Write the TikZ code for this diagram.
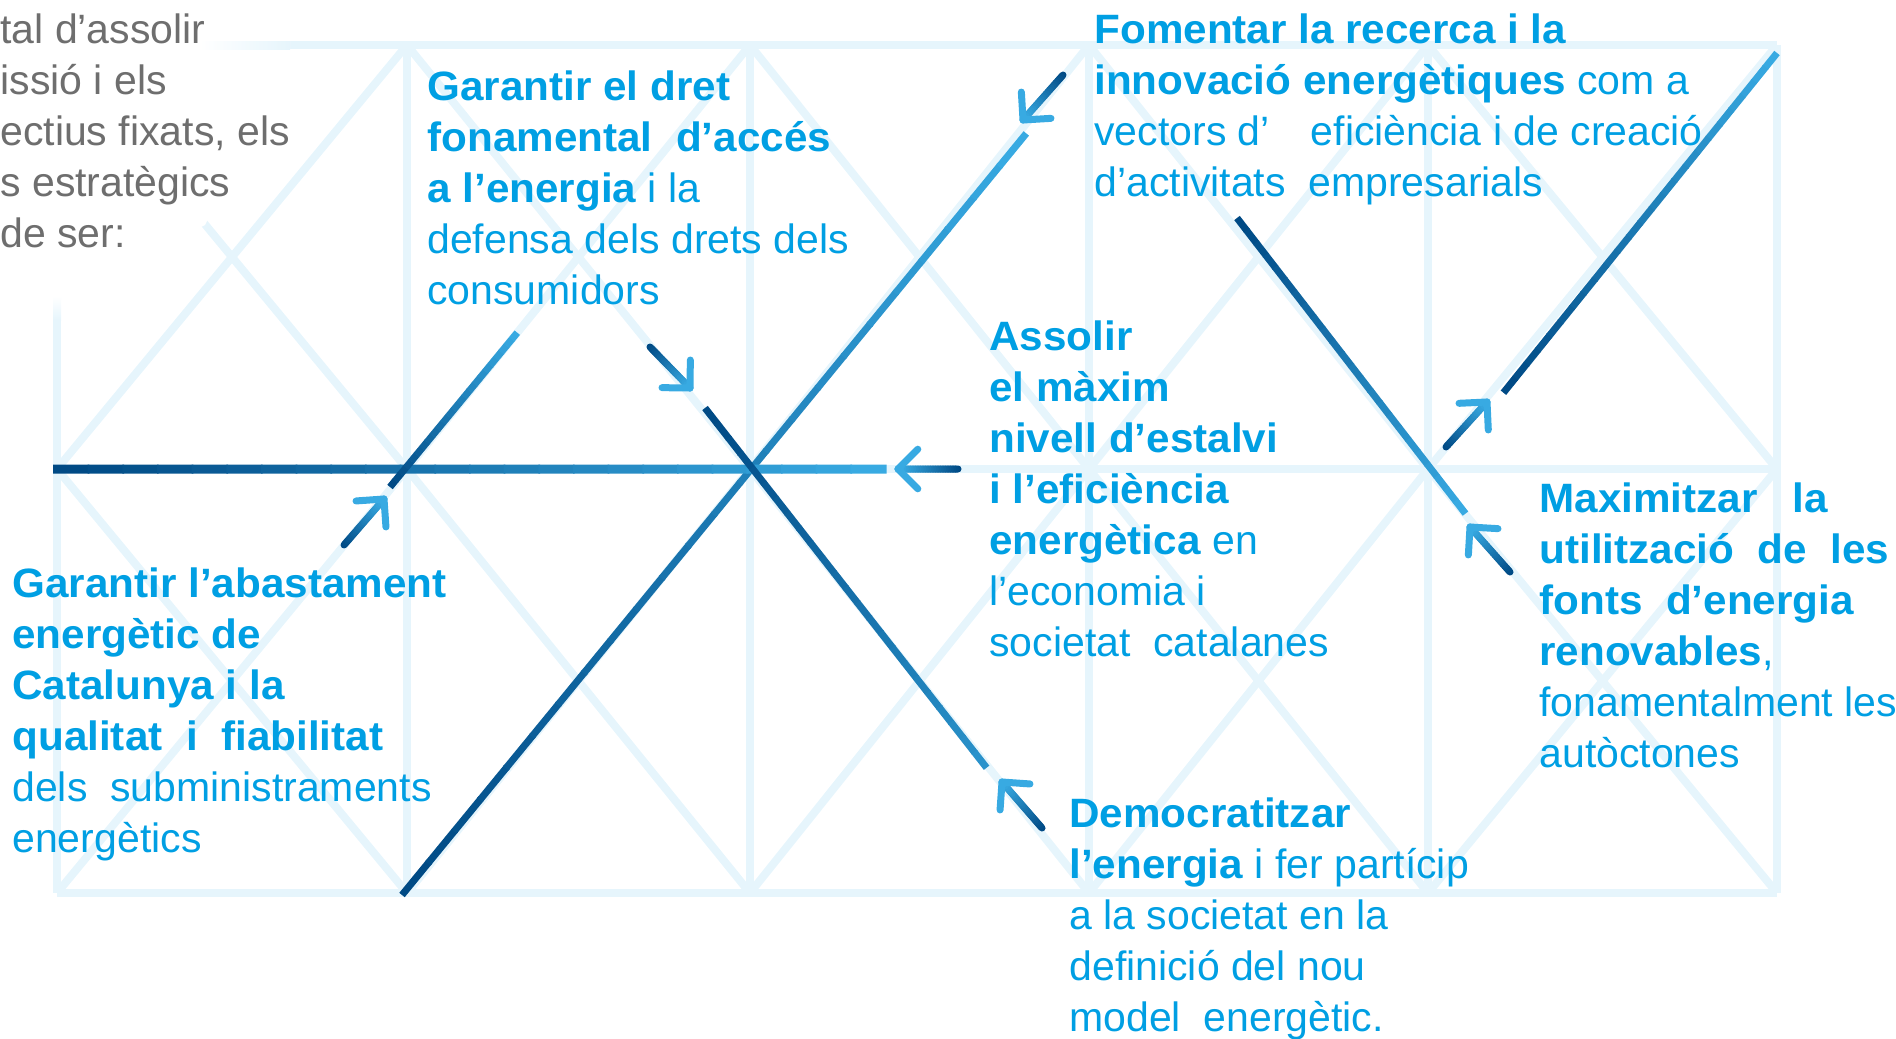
\documentclass[tikz,border=0pt]{standalone}
\usepackage{fontspec}
\setmainfont{Liberation Sans}[BoldFeatures={FakeStretch=1.03}]
\usetikzlibrary{calc}

\definecolor{graella}{HTML}{E6F5FC}
\definecolor{blautext}{HTML}{009FE3}
\definecolor{blaufosc}{HTML}{004A85}
\definecolor{blauclar}{HTML}{38AAE2}
\definecolor{gristext}{HTML}{6E6E6E}

% line with a colour ramp from #4 to #5
\newcommand{\rampline}[5]{%
  \foreach \k [evaluate=\k as \ta using \k/24,
               evaluate=\k as \tb using (\k+1.05)/24,
               evaluate=\k as \pc using int(100*\k/23)] in {0,...,23}
    \draw[#1, color=#5!\pc!#4] ($(#2)!\ta!(#3)$) -- ($(#2)!\tb!(#3)$);
}
% short arrow: ramp shaft and open head
\newcommand{\ramparrow}[2]{%
  \rampline{arrowshaft}{#1}{#2}{blaufosc}{blauclar}
  \draw[arrowhead] ($(#2)!14pt!45:(#1)$) -- (#2) -- ($(#2)!14pt!-45:(#1)$);
}

\begin{document}
\begin{tikzpicture}[
    x=0.5pt, y=-0.5pt,
    gridline/.style={graella, line width=4pt, line cap=square},
    mainline/.style={line width=3.5pt},
    axisline/.style={line width=4.5pt},
    arrowshaft/.style={line width=3.5pt, line cap=round},
    arrowhead/.style={blauclar, line width=3.5pt, line cap=round, line join=round},
    objectiu/.style={blautext, anchor=north west, inner sep=0pt, align=left,
      font=\fontsize{20.5}{25.5}\selectfont},
    intro/.style={objectiu, gristext}]
    \useasboundingbox (0,0) rectangle (1896,1039);

    % graella de fons
    \foreach \gx in {57,407,750,1089,1428,1777}
      \draw[gridline] (\gx,45) -- (\gx,893);
    \foreach \gy in {45,469,893}
      \draw[gridline] (57,\gy) -- (1777,\gy);
    \foreach \xa/\xb in {57/407,407/750,750/1089,1089/1428,1428/1777}
      \foreach \ya/\yb in {45/469,469/893}{
        \draw[gridline, line cap=butt] (\xa,\ya) -- (\xb,\yb);
        \draw[gridline, line cap=butt] (\xa,\yb) -- (\xb,\ya);
      }
    % esvaiment a dalt a l'esquerra
    \fill[white] (0,0) -- (290,0) -- (290,55) -- (205,225) -- (62,300) -- (0,300) -- cycle;
    \shade[left color=white, right color=graella] (200,41) rectangle (290,49);
    \shade[top color=white, bottom color=graella] (53,296) rectangle (61,320);

    % punts de les linies
    \coordinate (hA) at (53,469);
    \coordinate (hB) at (885,469);
    \coordinate (llA) at (402,895);
    \coordinate (llB) at (1025,135);
    \coordinate (esA) at (517,333);
    \coordinate (esB) at (390,487);
    \coordinate (baA) at (705,408);
    \coordinate (baB) at (986,767);
    \coordinate (drA) at (1237,218);
    \coordinate (drB) at (1465,513);
    \coordinate (puA) at (1777,53);
    \coordinate (puB) at (1504,392);

    % linies principals
    \rampline{mainline}{llA}{llB}{blaufosc}{blauclar}
    \rampline{axisline}{hA}{hB}{blaufosc}{blauclar}
    \rampline{mainline}{esB}{esA}{blaufosc}{blauclar}
    \rampline{mainline}{baA}{baB}{blaufosc}{blauclar!75!blaufosc}
    \rampline{mainline}{drA}{drB}{blaufosc}{blauclar}
    \rampline{mainline}{puA}{puB}{blauclar}{blaufosc}

    % fletxes
    \coordinate (abastT) at (344,545);   \coordinate (abastP) at (384,499);
    \coordinate (dretT) at (650,347);    \coordinate (dretP) at (690,388);
    \coordinate (estalviT) at (958,469); \coordinate (estalviP) at (898,469);
    \coordinate (recercaT) at (1063,75); \coordinate (recercaP) at (1023,120);
    \coordinate (democT) at (1042,828);  \coordinate (democP) at (1002,782);
    \coordinate (renovT) at (1510,572);  \coordinate (renovP) at (1470,527);
    \coordinate (autoT) at (1446,447);   \coordinate (autoP) at (1487,402);
    \ramparrow{abastT}{abastP}
    \ramparrow{dretT}{dretP}
    \ramparrow{estalviT}{estalviP}
    \ramparrow{recercaT}{recercaP}
    \ramparrow{democT}{democP}
    \ramparrow{renovT}{renovP}
    \ramparrow{autoT}{autoP}

    % textos
    \node[intro] (intro) at (0,13)
      {tal d’assolir\\issió i els\\ectius fixats, els\\s estratègics\\de ser:};
    \node[objectiu] (dret) at (427,70)
      {\textbf{Garantir el dret}\\\textbf{fonamental\ \ d’accés}\\\textbf{a l’energia} i la\\defensa dels drets dels\\consumidors};
    \node[objectiu] (recerca) at (1094,13)
      {\textbf{Fomentar la recerca i la}\\\textbf{innovació energètiques} com a\\vectors d’\hspace{1em}eficiència i de creació\\d’activitats\ \ empresarials};
    \node[objectiu] (abast) at (12,567)
      {\textbf{Garantir l’abastament}\\\textbf{energètic de}\\\textbf{Catalunya i la}\\\textbf{qualitat\ \ i\ \ fiabilitat}\\dels\ \ subministraments\\energètics};
    \node[objectiu] (estalvi) at (989,320)
      {\textbf{Assolir}\\\textbf{el màxim}\\\textbf{nivell d’estalvi}\\\textbf{i l’eficiència}\\\textbf{energètica} en\\l’economia i\\societat\ \ catalanes};
    \node[objectiu] (renov) at (1539,482)
      {\textbf{Maximitzar\ \ \ la}\\\textbf{utilització\ \ de\ \ les}\\\textbf{fonts\ \ d’energia}\\\textbf{renovables},\\fonamentalment les\\autòctones};
    \node[objectiu] (democ) at (1069,797)
      {\textbf{Democratitzar}\\\textbf{l’energia} i fer partícip\\a la societat en la\\definició del nou\\model\ \ energètic.};
\end{tikzpicture}
\end{document}
